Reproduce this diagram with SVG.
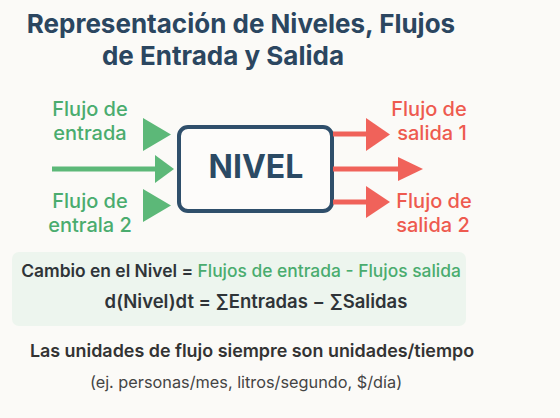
<svg xmlns="http://www.w3.org/2000/svg" width="560" height="418" viewBox="0 0 560 418">
<style>
text{font-family:Inter,"Liberation Sans",Arial,sans-serif}
.title{font-size:26px;font-weight:700;fill:#2b4660}
.in{font-size:20px;font-weight:500;fill:#4aac6e}
.out{font-size:20px;font-weight:500;fill:#ee5a4f}
.gfill{fill:#5cb878}
.rfill{fill:#f0625a}
.gline{stroke:#5cb878;stroke-width:5}
.rline{stroke:#f0625a;stroke-width:5}
.f1{font-size:17.4px;font-weight:600;fill:#2f3438}
.f2{font-size:18.5px;font-weight:600;fill:#2f3438}
.fg{fill:#4aac6e;font-weight:500}
.n1{font-size:17.9px;font-weight:600;fill:#333}
.n2{font-size:16.3px;fill:#444}
</style>
<rect width="560" height="418" fill="#fbfaf7"/>
<g id="title">
<text class="title" x="241" y="33" text-anchor="middle">Representación de Niveles, Flujos</text>
<text class="title" x="223" y="65" text-anchor="middle">de Entrada y Salida</text>
</g>
<g id="nivel">
<rect x="179" y="127" width="153" height="84" rx="9" fill="#fdfcfa" stroke="#2f4f6b" stroke-width="4"/>
<text x="256" y="178" text-anchor="middle" font-size="32" font-weight="700" fill="#2b4a64">NIVEL</text>
</g>
<g id="connectors">
<polygon class="gfill" points="143,118 171,134.5 143,151"/>
<line class="gline" x1="52" y1="169" x2="158" y2="169"/>
<polygon class="gfill" points="155,155 174,169 155,183"/>
<polygon class="gfill" points="143,189 171,205.5 143,222"/>
<line class="rline" x1="333" y1="134" x2="369" y2="134"/>
<polygon class="rfill" points="366,118 390,134.5 366,151"/>
<line class="rline" x1="333" y1="169" x2="400" y2="169"/>
<polygon class="rfill" points="398,157 423,169 398,181"/>
<line class="rline" x1="333" y1="202" x2="369" y2="202"/>
<polygon class="rfill" points="366,186 390,202 366,218"/>
</g>
<g id="inflow-labels">
<text class="in" x="90" y="116" text-anchor="middle">Flujo de</text>
<text class="in" x="90" y="140" text-anchor="middle">entrada</text>
<text class="in" x="90" y="208" text-anchor="middle">Flujo de</text>
<text class="in" x="90" y="232" text-anchor="middle">entrala 2</text>
</g>
<g id="outflow-labels">
<text class="out" x="429" y="116" text-anchor="middle">Flujo de</text>
<text class="out" x="432" y="140" text-anchor="middle">salida 1</text>
<text class="out" x="434" y="208" text-anchor="middle">Flujo de</text>
<text class="out" x="433" y="232" text-anchor="middle">salida 2</text>
</g>
<g id="formula">
<rect x="12" y="252" width="454" height="74" rx="7" fill="#edf5ee"/>
<text class="f1" x="241" y="277" text-anchor="middle">Cambio en el Nivel = <tspan class="fg">Flujos de entrada - Flujos salida</tspan></text>
<text class="f2" x="256" y="308" text-anchor="middle">d(Nivel)dt = ∑Entradas − ∑Salidas</text>
</g>
<g id="note">
<text class="n1" x="252" y="357" text-anchor="middle">Las unidades de flujo siempre son unidades/tiempo</text>
<text class="n2" x="246" y="388" text-anchor="middle">(ej. personas/mes, litros/segundo, $/día)</text>
</g>
</svg>
